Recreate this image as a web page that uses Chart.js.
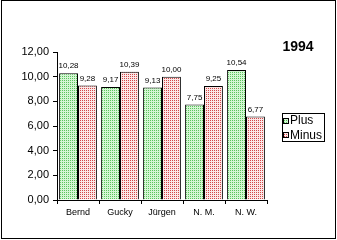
<!DOCTYPE html>
<html>
<head>
<meta charset="utf-8">
<script src="https://cdn.jsdelivr.net/npm/chart.js@4"></script>
<style>
  html, body { margin: 0; padding: 0; background: #fff; }
  #wrap { width: 337px; height: 240px; position: relative; }
</style>
</head>
<body>
<div id="wrap"><canvas id="chart" width="337" height="240"></canvas></div>
<script>
// --- data ---
const names = ['Bernd', 'Gucky', 'Jürgen', 'N. M.', 'N. W.'];
const plusValues = [10.28, 9.17, 9.13, 7.75, 10.54];
const minusValues = [9.28, 10.39, 10.00, 9.25, 6.77];
const seriesLabels = ['Plus', 'Minus'];
const yearTitle = '1994';

const ctx = document.getElementById('chart').getContext('2d');

// dotted fill like the old spreadsheet patterns
function dotted(bg, dot) {
    const c = document.createElement('canvas');
    c.width = 2; c.height = 2;
    const x = c.getContext('2d');
    x.fillStyle = bg; x.fillRect(0, 0, 2, 2);
    x.fillStyle = dot; x.fillRect(0, 0, 1, 1);
    return ctx.createPattern(c, 'repeat');
}
const greenFill = dotted('#d4f6d4', '#5cc45c');
const redFill = dotted('#fbe6e6', '#d24848');

const comma = v => v.toFixed(2).replace('.', ',');

// value labels, legend, title and frame
const extras = {
    id: 'extras',
    afterDatasetsDraw(chart) {
        const c = chart.ctx;
        c.save();
        c.fillStyle = '#000';
        c.font = '8px Arial, "Liberation Sans", sans-serif';
        c.textAlign = 'center';
        c.textBaseline = 'bottom';
        chart.data.datasets.forEach((ds, i) => {
            chart.getDatasetMeta(i).data.forEach((bar, j) => {
                c.fillText(comma(ds.data[j]), bar.x, bar.y - 3);
            });
        });
        c.restore();
    },
    afterDraw(chart) {
        const c = chart.ctx;
        c.save();
        c.strokeStyle = '#000';
        c.lineWidth = 1;
        // outer frame
        c.strokeRect(1.5, 0.5, 334, 238);
        // title
        c.fillStyle = '#000';
        c.font = 'bold 14px Arial, "Liberation Sans", sans-serif';
        c.textAlign = 'center';
        c.textBaseline = 'middle';
        c.fillText(yearTitle, 298, 47);
        // legend box
        c.strokeRect(282.5, 113.5, 42, 28);
        const fills = [greenFill, redFill];
        c.font = '12px Arial, "Liberation Sans", sans-serif';
        c.textAlign = 'left';
        seriesLabels.forEach((lab, i) => {
            const cy = 120.5 + i * 14.5;
            c.fillStyle = fills[i];
            c.fillRect(284, Math.round(cy) - 2, 4, 4);
            c.strokeRect(283.5, Math.round(cy) - 2.5, 5, 5);
            c.fillStyle = '#000';
            c.fillText(lab, 290, cy + 0.5);
        });
        c.restore();
    }
};

new Chart(ctx, {
    type: 'bar',
    data: {
        labels: names,
        datasets: [{
            label: seriesLabels[0],
            data: plusValues,
            backgroundColor: greenFill,
            borderColor: '#000',
            borderWidth: 1,
            borderSkipped: 'bottom'
        }, {
            label: seriesLabels[1],
            data: minusValues,
            backgroundColor: redFill,
            borderColor: '#000',
            borderWidth: 1,
            borderSkipped: 'bottom'
        }]
    },
    options: {
        responsive: false,
        animation: false,
        layout: { padding: { left: 0, top: 52, right: 70, bottom: 0 } },
        plugins: { legend: { display: false }, tooltip: { enabled: false } },
        datasets: { bar: { categoryPercentage: 0.9, barPercentage: 1 } },
        scales: {
            x: {
                grid: { display: true, drawOnChartArea: false, offset: true, tickLength: 4, color: '#000' },
                border: { display: true, color: '#000' },
                ticks: {
                    color: '#000',
                    maxRotation: 0,
                    padding: 3,
                    font: { family: 'Arial, "Liberation Sans", sans-serif', size: 9 }
                },
                afterFit(scale) { scale.height = 40; }
            },
            y: {
                min: 0,
                max: 12,
                grid: { display: true, drawOnChartArea: false, tickLength: 4, color: '#000' },
                border: { display: true, color: '#000' },
                ticks: {
                    stepSize: 2,
                    color: '#000',
                    padding: 4,
                    font: { family: 'Arial, "Liberation Sans", sans-serif', size: 11 },
                    callback: v => comma(v)
                },
                afterFit(scale) { scale.width = 57; }
            }
        }
    },
    plugins: [extras]
});
</script>
</body>
</html>
